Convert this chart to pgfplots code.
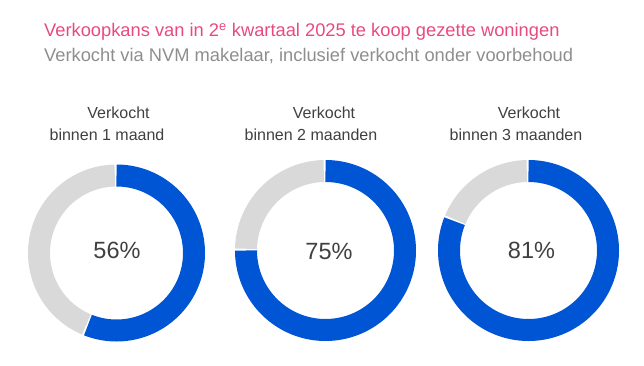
\documentclass[border=0pt]{standalone}
\usepackage{pgfplots}
\pgfplotsset{compat=1.18}
\usepackage{fontspec}
\setmainfont{Liberation Sans}
\definecolor{nvmblue}{HTML}{0055D4}
\definecolor{ringgray}{HTML}{D9D9D9}
\definecolor{titlepink}{HTML}{E84A7F}
\definecolor{subgray}{HTML}{8E8E8E}
\definecolor{txtgray}{HTML}{404040}
% \donut{cx}{cy}{outer radius}{value in %}
\newcommand{\donut}[4]{%
  \addplot[domain={#4+0.35}:{99.65}, samples=150, variable=\t, line width=22pt, draw=ringgray, line cap=butt]
    ({#1+(#3-11)*sin(3.6*\t)}, {#2-(#3-11)*cos(3.6*\t)});
  \addplot[domain=0:#4, samples=150, variable=\t, line width=22pt, draw=nvmblue, line cap=butt]
    ({#1+(#3-11)*sin(3.6*\t)}, {#2-(#3-11)*cos(3.6*\t)});
}
\begin{document}
\begin{tikzpicture}
\useasboundingbox (0,0) rectangle (644pt,366pt);
\begin{axis}[
  x=1pt, y=1pt, y dir=reverse,
  xmin=0, xmax=644, ymin=0, ymax=366,
  hide axis, clip=false,
]
\donut{116.5}{253}{88.5}{56}
\donut{325.5}{250.5}{90.5}{75}
\donut{528.5}{250.5}{90.5}{81}

\node[anchor=base west, text=titlepink, font=\fontsize{18.3}{22}\selectfont, inner sep=0pt] at (axis cs:44,36.7) {Verkoopkans van in 2\textsuperscript{e} kwartaal 2025 te koop gezette woningen};
\node[anchor=base west, text=subgray, font=\fontsize{18.3}{22}\selectfont, inner sep=0pt] at (axis cs:44,61.7) {Verkocht via NVM makelaar, inclusief verkocht onder voorbehoud};

\foreach \cx/\lab in {118.5/binnen 1 maand, 324/binnen 2 maanden, 529/binnen 3 maanden}{
  \edef\temp{\noexpand\node[anchor=base, text=txtgray, font=\noexpand\fontsize{16}{19}\noexpand\selectfont, inner sep=0pt] at (axis cs:\cx,118.3) {Verkocht};}\temp
}
\node[anchor=base, text=txtgray, font=\fontsize{16}{19}\selectfont, inner sep=0pt] at (axis cs:107,140.5) {binnen 1 maand};
\node[anchor=base, text=txtgray, font=\fontsize{16}{19}\selectfont, inner sep=0pt] at (axis cs:311,140.5) {binnen 2 maanden};
\node[anchor=base, text=txtgray, font=\fontsize{16}{19}\selectfont, inner sep=0pt] at (axis cs:516,140.5) {binnen 3 maanden};

\node[anchor=base, text=txtgray, font=\fontsize{23.5}{28}\selectfont, inner sep=0pt] at (axis cs:117,258.3) {56\%};
\node[anchor=base, text=txtgray, font=\fontsize{23.5}{28}\selectfont, inner sep=0pt] at (axis cs:329,259.5) {75\%};
\node[anchor=base, text=txtgray, font=\fontsize{23.5}{28}\selectfont, inner sep=0pt] at (axis cs:531.5,258.5) {81\%};
\end{axis}
\end{tikzpicture}
\end{document}
